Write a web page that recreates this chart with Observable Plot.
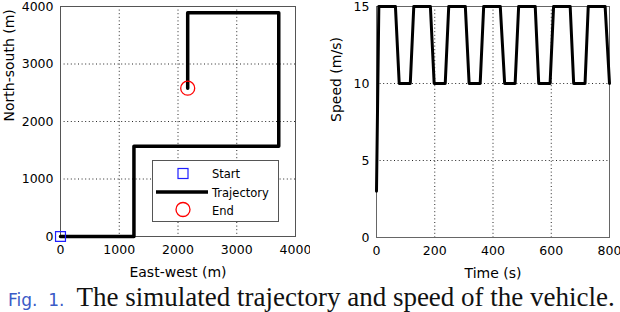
<!DOCTYPE html>
<html>
<head>
<meta charset="utf-8">
<script src="https://cdn.jsdelivr.net/npm/d3@7"></script>
<script src="https://cdn.jsdelivr.net/npm/@observablehq/plot@0.6"></script>
<style>
  html, body { margin: 0; padding: 0; background: white; overflow: hidden; }
  #wrap { position: relative; width: 620px; height: 312px; overflow: hidden; }
  #row { display: flex; position: absolute; left: 0; top: 0; }
  .panel { position: relative; width: 310px; height: 285px; }
  #legend { position: absolute; left: 152px; top: 160px; }
  #caption { position: absolute; left: 0; top: 283px; white-space: pre; line-height: 28px;
             font-family: "Liberation Serif", serif; font-size: 27px; color: #111; }
  #caption .fig { font-family: "DejaVu Sans", sans-serif; font-size: 17px; color: #3a5bc7; margin-left: 8px; margin-right: 12px; }
</style>
</head>
<body>
<div id="wrap">
  <div id="row">
    <div class="panel" id="left"></div>
    <div class="panel" id="right"></div>
  </div>
  <div id="caption"><span class="fig">Fig.  1.</span>The simulated trajectory and speed of the vehicle.</div>
</div>
<script>
// ---- Data: trajectory (left panel) ----
const trajEast  = [0, 1250, 1250, 3715, 3715, 2165, 2165];
const trajNorth = [0, 0, 1570, 1570, 3890, 3890, 2580];
const startPoint = [0, 0];
const endPoint = [2165, 2580];
const legendLabels = ["Start", "Trajectory", "End"];
const leftTicks = [0, 1000, 2000, 3000, 4000];

// ---- Data: speed (right panel) ----
const timeS  = [0, 8, 65, 78, 116, 128, 185, 198, 236, 248, 305, 318, 356, 368, 425, 440, 476, 488, 545, 557, 596, 608, 665, 677, 716, 727, 785, 800];
const speedV = [3, 15, 15, 10, 10, 15, 15, 10, 10, 15, 15, 10, 10, 15, 15, 10, 10, 15, 15, 10, 10, 15, 15, 10, 10, 15, 15, 10];
const timeTicks = [0, 200, 400, 600, 800];
const speedTicks = [0, 5, 10, 15];

const traj = trajEast.map((x, i) => ({x, y: trajNorth[i]}));
const speed = timeS.map((t, i) => ({t, v: speedV[i]}));

const baseStyle = {fontFamily: "DejaVu Sans, sans-serif", fontSize: "12.5px", color: "black", background: "white", overflow: "visible"};
const dotted = {stroke: "black", strokeOpacity: 0.85, strokeDasharray: "1,2.6", strokeWidth: 1};
const fmt = d3.format("d");

function axisTitle(text, where, offset) {
  if (where === "bottom") return Plot.text([text], {frameAnchor: "bottom", dy: offset, fontSize: 14, lineAnchor: "bottom"});
  return Plot.text([text], {frameAnchor: "left", dx: -offset, rotate: -90, fontSize: 14});
}

const left = Plot.plot({
  width: 310, height: 285,
  marginLeft: 60, marginRight: 15, marginTop: 6, marginBottom: 49,
  style: baseStyle,
  x: {domain: [0, 4000]},
  y: {domain: [0, 4000]},
  marks: [
    Plot.gridX(leftTicks.slice(1, -1), dotted),
    Plot.gridY(leftTicks.slice(1, -1), dotted),
    Plot.frame({stroke: "#555"}),
    Plot.line(traj, {x: "x", y: "y", stroke: "black", strokeWidth: 3.5, strokeLinejoin: "round"}),
    Plot.dot([startPoint], {x: d => d[0], y: d => d[1], symbol: "square", r: 5.6, stroke: "#1f1fff", strokeWidth: 1.2}),
    Plot.dot([endPoint], {x: d => d[0], y: d => d[1], r: 7, stroke: "red", strokeWidth: 1.3}),
    Plot.axisX(leftTicks, {tickSize: 0, tickPadding: 9, tickFormat: fmt, label: null}),
    Plot.axisY(leftTicks, {tickSize: 0, tickPadding: 7, tickFormat: fmt, label: null}),
    axisTitle("East-west (m)", "bottom", 40),
    axisTitle("North-south (m)", "left", 51)
  ]
});
document.getElementById("left").appendChild(left);

const right = Plot.plot({
  width: 310, height: 285,
  marginLeft: 66, marginRight: 11, marginTop: 6, marginBottom: 48,
  style: baseStyle,
  x: {domain: [0, 800]},
  y: {domain: [0, 15]},
  marks: [
    Plot.gridX(timeTicks.slice(1, -1), dotted),
    Plot.gridY(speedTicks.slice(1, -1), dotted),
    Plot.frame({stroke: "#666"}),
    Plot.line(speed, {x: "t", y: "v", stroke: "black", strokeWidth: 3, strokeLinejoin: "round"}),
    Plot.axisX(timeTicks, {tickSize: 0, tickPadding: 9, tickFormat: fmt, label: null}),
    Plot.axisY(speedTicks, {tickSize: 0, tickPadding: 7, tickFormat: fmt, label: null}),
    axisTitle("Time (s)", "bottom", 40),
    axisTitle("Speed (m/s)", "left", 40)
  ]
});
document.getElementById("right").appendChild(right);

// ---- Legend (overlay, left panel) ----
const lg = d3.select("#left").append("svg").attr("id", "legend")
  .attr("width", 127).attr("height", 62);
lg.append("rect").attr("x", 0.5).attr("y", 0.5).attr("width", 126).attr("height", 61)
  .attr("fill", "white").attr("stroke", "#555");
lg.append("rect").attr("x", 26).attr("y", 8.5).attr("width", 10).attr("height", 10)
  .attr("fill", "none").attr("stroke", "#1f1fff").attr("stroke-width", 1.2);
lg.append("line").attr("x1", 4).attr("x2", 56).attr("y1", 32).attr("y2", 32)
  .attr("stroke", "black").attr("stroke-width", 3.5);
lg.append("circle").attr("cx", 31).attr("cy", 49.5).attr("r", 7)
  .attr("fill", "none").attr("stroke", "red").attr("stroke-width", 1.3);
const baselines = [18, 37, 55];
legendLabels.forEach((t, i) => {
  lg.append("text").attr("x", 60).attr("y", baselines[i])
    .attr("font-family", "DejaVu Sans, sans-serif").attr("font-size", 11.5).text(t);
});
</script>
</body>
</html>
